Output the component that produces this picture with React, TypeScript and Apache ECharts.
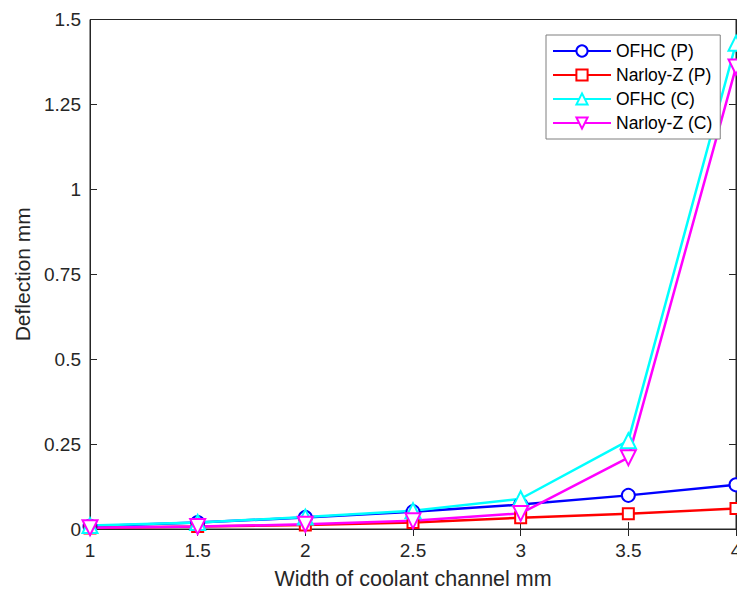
import React, { useEffect, useRef } from "react";
import * as echarts from "echarts";

// Channel widths (mm)
const widths = [1, 1.5, 2, 2.5, 3, 3.5, 4];

// Deflection (mm) for each material / case
const ofhcP = [0.008, 0.019, 0.034, 0.051, 0.072, 0.099, 0.13];
const narloyP = [0.003, 0.007, 0.012, 0.019, 0.033, 0.045, 0.06];
const ofhcC = [0.01, 0.019, 0.035, 0.054, 0.089, 0.26, 1.43];
const narloyC = [0.004, 0.007, 0.014, 0.024, 0.046, 0.21, 1.36];

const seriesNames = ["OFHC (P)", "Narloy-Z (P)", "OFHC (C)", "Narloy-Z (C)"];

const FONT = "Liberation Sans, Arial, Helvetica, sans-serif";
const INK = "#262626";

const pair = (ys: number[]) => widths.map((x, i) => [x, ys[i]]);

export default function App() {
  const ref = useRef<HTMLDivElement>(null);

  useEffect(() => {
    document.body.style.margin = "0";
    if (!ref.current) return;
    const chart = echarts.init(ref.current, null, { renderer: "svg" });

    const line = (
      name: string,
      ys: number[],
      color: string,
      symbol: string,
      size: number,
      rotate = 0
    ) => ({
      name,
      type: "line",
      data: pair(ys),
      symbol,
      symbolSize: size,
      symbolRotate: rotate,
      lineStyle: { color, width: 2.5 },
      itemStyle: { color, borderColor: color, borderWidth: 2 },
      emphasis: { disabled: true },
      z: 3,
    });

    const tickAxisStyle = {
      axisLine: { show: true, lineStyle: { color: INK, width: 1 } },
      axisTick: { show: true, inside: true, length: 7, lineStyle: { color: INK } },
      splitLine: { show: false },
    };

    chart.setOption({
      animation: false,
      backgroundColor: "#fff",
      textStyle: { fontFamily: FONT },
      grid: {
        left: 90,
        top: 19.5,
        right: 1,
        bottom: 62,
        containLabel: false,
        outerBoundsMode: "none",
        show: true,
        borderColor: INK,
        borderWidth: 1,
      },
      legend: {
        orient: "vertical",
        left: 546,
        top: 35,
        data: seriesNames,
        itemWidth: 58,
        itemHeight: 14,
        itemGap: 4,
        padding: [6, 8, 6, 6],
        backgroundColor: "#fff",
        borderColor: "#7f7f7f",
        borderWidth: 1,
        textStyle: { fontSize: 17.5, color: "#000", fontFamily: FONT, lineHeight: 20 },
      },
      xAxis: [
        {
          type: "value",
          min: 1,
          max: 4,
          interval: 0.5,
          name: "Width of coolant channel mm",
          nameLocation: "middle",
          nameGap: 39,
          nameTextStyle: { fontSize: 21.5, color: INK, fontFamily: FONT },
          axisLabel: { fontSize: 19, color: INK, margin: 12, fontFamily: FONT },
          ...tickAxisStyle,
        },
        {
          type: "value",
          position: "top",
          min: 1,
          max: 4,
          interval: 0.5,
          axisLabel: { show: false },
          ...tickAxisStyle,
        },
      ],
      yAxis: [
        {
          type: "value",
          min: 0,
          max: 1.5,
          interval: 0.25,
          name: "Deflection mm",
          nameLocation: "middle",
          nameGap: 56.5,
          nameTextStyle: { fontSize: 21, color: INK, fontFamily: FONT },
          axisLabel: { fontSize: 19, color: INK, margin: 9, fontFamily: FONT },
          ...tickAxisStyle,
        },
        {
          type: "value",
          position: "right",
          min: 0,
          max: 1.5,
          interval: 0.25,
          axisLabel: { show: false },
          ...tickAxisStyle,
        },
      ],
      series: [
        line(seriesNames[0], ofhcP, "#0000ff", "emptyCircle", 13),
        line(seriesNames[1], narloyP, "#ff0000", "emptyRect", 11),
        line(seriesNames[2], ofhcC, "#00ffff", "emptyTriangle", 15),
        line(seriesNames[3], narloyC, "#ff00ff", "emptyTriangle", 15, 180),
      ],
    });

    return () => chart.dispose();
  }, []);

  return <div ref={ref} style={{ width: 737, height: 591 }} />;
}
